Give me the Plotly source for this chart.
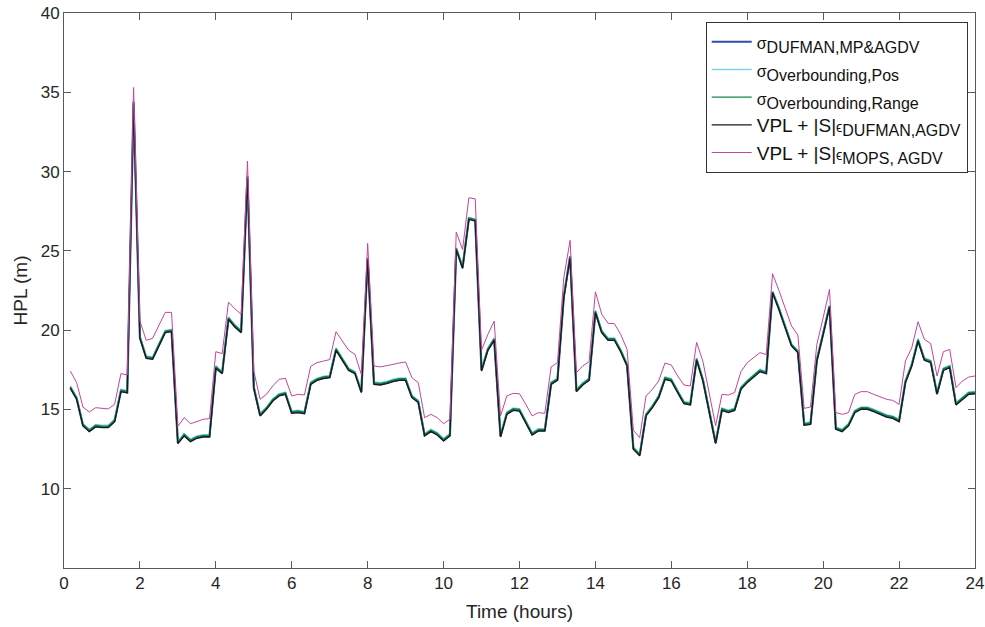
import numpy as np
import plotly.graph_objects as go

# sampling grid: one epoch every 10 minutes (1/6 h), 144 epochs
hours = np.arange(1, 145) / 6.0

vpl_dufman = [16.33,15.64,13.96,13.6,13.9,13.85,13.85,14.23,16.12,16.04,34.27,19.48,18.22,18.16,19.0,19.84,19.9,12.84,13.33,12.97,
              13.18,13.26,13.26,17.6,17.25,20.68,20.2,19.84,29.6,16.33,14.59,15.0,15.53,15.85,15.95,14.75,14.8,14.73,16.58,16.83,16.95,
              17.0,18.73,18.05,17.46,17.25,16.06,24.46,16.58,16.54,16.62,16.75,16.83,16.83,15.74,15.43,13.33,13.6,13.39,13.01,13.33,
              25.09,23.89,26.98,26.88,17.42,18.73,19.36,13.26,14.69,14.94,14.9,14.17,13.39,13.64,13.64,16.58,16.83,22.04,24.57,16.12,16.54,
              16.83,21.1,19.84,19.36,19.36,18.64,17.74,12.49,12.07,14.59,15.11,15.74,16.9,16.79,16.06,15.36,15.28,18.1,16.79,14.9,
              12.85,14.94,14.8,14.94,16.27,16.69,17.04,17.38,17.25,22.36,21.31,20.15,19.0,18.58,14.0,14.06,18.05,19.73,21.46,13.75,13.6,
              13.96,14.8,15.01,15.01,14.86,14.69,14.52,14.44,14.23,16.69,17.74,19.31,18.1,17.95,15.95,17.46,17.63,15.28,15.64,15.95,15.99]

vpl_mops = [17.42,16.69,15.15,14.84,15.11,15.07,15.03,15.32,17.26,17.17,35.3,20.57,19.36,19.48,20.26,21.12,21.12,13.94,14.48,14.1,
            14.23,14.38,14.42,18.64,18.52,21.77,21.35,21.0,30.66,17.42,15.64,15.95,16.48,16.9,16.96,15.85,15.95,15.91,17.72,17.95,18.05,
            18.14,19.9,19.31,18.73,18.47,17.21,25.47,17.74,17.68,17.74,17.84,17.93,17.99,17.0,16.69,14.48,14.69,14.48,14.1,14.38,
            26.18,25.09,28.35,28.28,18.73,19.73,20.57,14.59,15.85,16.01,15.99,15.32,14.59,14.8,14.75,17.68,17.95,23.3,25.66,17.32,17.74,
            18.01,22.42,21.0,20.43,20.41,19.73,18.79,13.68,13.22,15.85,16.27,16.79,17.93,17.8,17.11,16.54,16.48,19.23,18.01,16.06,
            13.97,15.95,15.91,16.06,17.38,17.95,18.26,18.58,18.47,23.56,22.51,21.41,20.26,19.69,15.07,15.15,19.1,20.78,22.57,14.8,14.69,
            14.8,15.95,16.12,16.12,15.95,15.78,15.64,15.57,15.32,18.05,18.89,20.53,19.42,19.15,17.11,18.64,18.79,16.37,16.79,17.04,17.11]

sigma_dufman = [16.38,15.69,14.01,13.65,13.95,13.9,13.9,14.28,16.17,16.09,34.4,19.53,18.27,18.21,19.05,19.89,19.95,12.89,13.38,13.02,
                13.23,13.31,13.31,17.65,17.3,20.73,20.25,19.89,29.7,16.38,14.64,15.05,15.58,15.9,16.0,14.8,14.85,14.78,16.63,16.88,17.0,
                17.05,18.78,18.1,17.51,17.3,16.11,24.55,16.63,16.59,16.67,16.8,16.88,16.88,15.79,15.48,13.38,13.65,13.44,13.06,13.38,
                25.15,23.94,27.05,26.95,17.47,18.78,19.41,13.31,14.74,14.99,14.95,14.22,13.44,13.69,13.69,16.63,16.88,22.1,24.65,16.17,16.59,
                16.88,21.15,19.89,19.41,19.41,18.69,17.79,12.54,12.12,14.64,15.16,15.79,16.95,16.84,16.11,15.41,15.33,18.15,16.84,14.95,
                12.9,14.99,14.85,14.99,16.32,16.74,17.09,17.43,17.3,22.42,21.36,20.2,19.05,18.63,14.05,14.11,18.1,19.78,21.52,13.8,13.65,
                14.01,14.85,15.06,15.06,14.91,14.74,14.57,14.49,14.28,16.74,17.79,19.36,18.15,18.0,16.0,17.51,17.68,15.33,15.69,16.0,16.04]

sigma_ob_pos = [16.48,15.79,14.11,13.75,14.05,14.0,14.0,14.38,16.27,16.19,34.35,19.63,18.37,18.31,19.15,19.99,20.05,12.99,13.48,13.12,
                13.33,13.41,13.41,17.75,17.4,20.83,20.35,19.99,29.65,16.48,14.74,15.15,15.68,16.0,16.1,14.9,14.95,14.88,16.73,16.98,17.1,
                17.15,18.88,18.2,17.61,17.4,16.21,24.5,16.73,16.69,16.77,16.9,16.98,16.98,15.89,15.58,13.48,13.75,13.54,13.16,13.48,
                25.2,24.04,27.1,27.0,17.57,18.88,19.51,13.41,14.84,15.09,15.05,14.32,13.54,13.79,13.79,16.73,16.98,22.15,24.6,16.27,16.69,
                16.98,21.25,19.99,19.51,19.51,18.79,17.89,12.64,12.22,14.74,15.26,15.89,17.05,16.94,16.21,15.51,15.43,18.25,16.94,15.05,
                13.0,15.09,14.95,15.09,16.42,16.84,17.19,17.53,17.4,22.45,21.46,20.3,19.15,18.73,14.15,14.21,18.2,19.88,21.55,13.9,13.75,
                14.11,14.95,15.16,15.16,15.01,14.84,14.67,14.59,14.38,16.84,17.89,19.46,18.25,18.1,16.1,17.61,17.78,15.43,15.79,16.1,16.14]

sigma_ob_range = [16.43,15.74,14.06,13.7,14.0,13.95,13.95,14.33,16.22,16.14,34.3,19.58,18.32,18.26,19.1,19.94,20.0,12.94,13.43,13.07,
                  13.28,13.36,13.36,17.7,17.35,20.78,20.3,19.94,29.62,16.43,14.69,15.1,15.63,15.95,16.05,14.85,14.9,14.83,16.68,16.93,17.05,
                  17.1,18.83,18.15,17.56,17.35,16.16,24.48,16.68,16.64,16.72,16.85,16.93,16.93,15.84,15.53,13.43,13.7,13.49,13.11,13.43,
                  25.15,23.99,27.08,26.98,17.52,18.83,19.46,13.36,14.79,15.04,15.0,14.27,13.49,13.74,13.74,16.68,16.93,22.12,24.58,16.22,16.64,
                  16.93,21.2,19.94,19.46,19.46,18.74,17.84,12.59,12.17,14.69,15.21,15.84,17.0,16.89,16.16,15.46,15.38,18.2,16.89,15.0,
                  12.95,15.04,14.9,15.04,16.37,16.79,17.14,17.48,17.35,22.4,21.41,20.25,19.1,18.68,14.1,14.16,18.15,19.83,21.5,13.85,13.7,
                  14.06,14.9,15.11,15.11,14.96,14.79,14.62,14.54,14.33,16.79,17.84,19.41,18.2,18.05,16.05,17.56,17.73,15.38,15.74,16.05,16.09]

SUB = "<sub><span style='font-size:16px'>{}</span></sub>"
SIG = "<span style='font-size:16px'>σ</span>"
names = [
    SIG + SUB.format("DUFMAN,MP&amp;AGDV"),
    SIG + SUB.format("Overbounding,Pos"),
    SIG + SUB.format("Overbounding,Range"),
    "VPL + |S|<span style='font-size:14px'>ϵ</span>" + SUB.format("DUFMAN,AGDV"),
    "VPL + |S|<span style='font-size:14px'>ϵ</span>" + SUB.format("MOPS, AGDV"),
]
series = [sigma_dufman, sigma_ob_pos, sigma_ob_range, vpl_dufman, vpl_mops]
colors = ["#2F4DA6", "#7FD6E3", "#11864A", "#1A1A1A", "#C2459E"]
widths = [2.2, 1.4, 1.4, 1.3, 1.0]

x_ticks = list(range(0, 25, 2))
y_ticks = [10, 15, 20, 25, 30, 35, 40]

fig = go.Figure()
for n, s, c, w in zip(names, series, colors, widths):
    fig.add_trace(go.Scatter(x=hours, y=s, mode="lines", name=n,
                             line=dict(color=c, width=w)))

axis_common = dict(
    showgrid=False, zeroline=False, showline=True, linecolor="#5a5a5a", linewidth=1,
    mirror="ticks", ticks="inside", ticklen=7, tickcolor="#5a5a5a", automargin=False,
    tickfont=dict(family="Liberation Sans, Arial, sans-serif", size=17, color="#262626"),
)

fig.update_layout(
    width=985, height=627,
    margin=dict(l=64, r=10, t=13, b=59),
    paper_bgcolor="white", plot_bgcolor="white",
    font=dict(family="Liberation Sans, Arial, sans-serif", color="#262626"),
    xaxis=dict(range=[0, 24], tickvals=x_ticks,
               title=dict(text="Time (hours)", font=dict(size=19), standoff=12),
               **axis_common),
    yaxis=dict(range=[5, 40], tickvals=y_ticks,
               title=dict(text="HPL (m)", font=dict(size=19), standoff=8),
               **axis_common),
    legend=dict(x=0.992, y=0.984, xanchor="right", yanchor="top",
                bgcolor="white", bordercolor="#333333", borderwidth=1,
                font=dict(size=19, color="#111111"), itemwidth=40,
                tracegroupgap=0),
    showlegend=True,
)

fig.write_html("out.html", config={"displayModeBar": False},
               post_script="document.body.style.margin='0px';document.body.style.overflow='hidden';")
